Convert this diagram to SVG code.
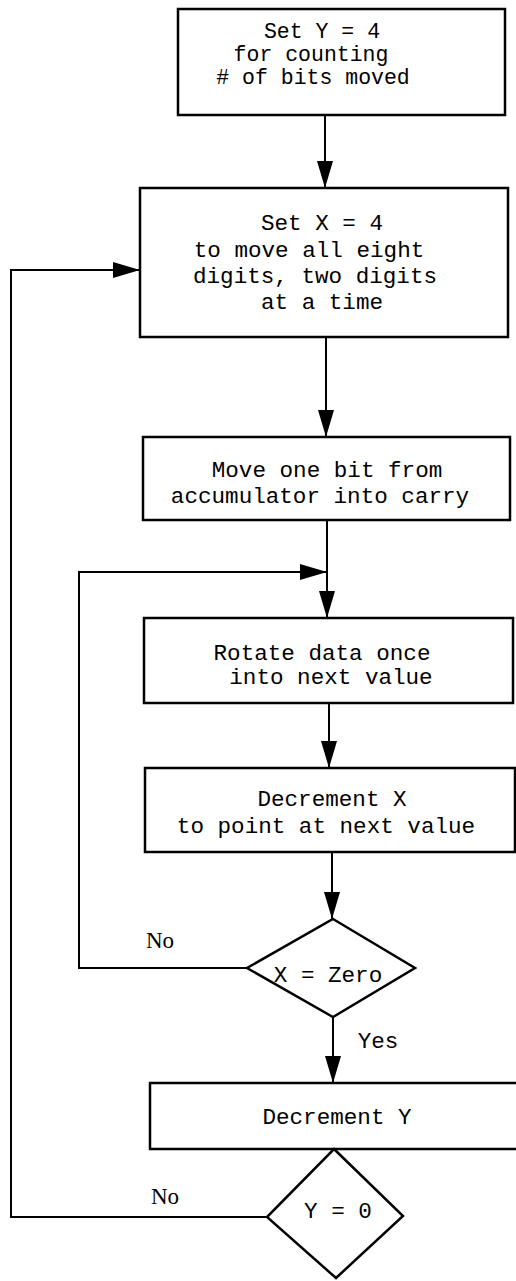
<svg xmlns="http://www.w3.org/2000/svg" width="516" height="1281" viewBox="0 0 516 1281">
<style>
.box{fill:#fff;stroke:#000;stroke-width:2.5}
.t{font-family:"Liberation Mono","DejaVu Sans Mono",monospace;font-size:22.6px;fill:#000;text-anchor:middle}
.s{font-size:21.5px}
.lbl{font-family:"Liberation Serif","DejaVu Serif",serif;font-size:23px;fill:#000}
.c{fill:none;stroke:#000;stroke-width:2}
</style>
<defs>
<marker id="ah" viewBox="0 0 27 16" refX="27" refY="8" markerWidth="27" markerHeight="16" orient="auto" markerUnits="userSpaceOnUse">
<path d="M0,0 L27,8 L0,16 Z" fill="#000"/>
</marker>
</defs>
<rect width="516" height="1281" fill="#fff"/>
<g id="connectors">
<path class="c" d="M325,115 V188" marker-end="url(#ah)"/>
<path class="c" d="M326,337 V437" marker-end="url(#ah)"/>
<path class="c" d="M327,520 V618" marker-end="url(#ah)"/>
<path class="c" d="M329,703 V768" marker-end="url(#ah)"/>
<path class="c" d="M332,852 V919" marker-end="url(#ah)"/>
<path class="c" d="M333,1017 V1083" marker-end="url(#ah)"/>
<path class="c" d="M247,968 H79 V572 H327" marker-end="url(#ah)"/>
<path class="c" d="M267,1217 H11 V270 H140" marker-end="url(#ah)"/>
<text class="lbl" x="146" y="948">No</text>
<text class="t" x="378" y="1048">Yes</text>
<text class="lbl" x="151" y="1204">No</text>
</g>
<g id="setY">
<rect class="box" x="178" y="9" width="327" height="106"/>
<text class="t s" x="322" y="38">Set Y = 4</text>
<text class="t s" x="311" y="61">for counting</text>
<text class="t s" x="313" y="84"># of bits moved</text>
</g>
<g id="setX">
<rect class="box" x="140" y="188" width="368" height="149"/>
<text class="t" x="322" y="230">Set X = 4</text>
<text class="t" x="309" y="257">to move all eight</text>
<text class="t" x="315" y="283">digits, two digits</text>
<text class="t" x="322" y="309">at a time</text>
</g>
<g id="moveBit">
<rect class="box" x="143" y="437" width="367" height="83"/>
<text class="t" x="327" y="477">Move one bit from</text>
<text class="t" x="320" y="503">accumulator into carry</text>
</g>
<g id="rotate">
<rect class="box" x="144" y="618" width="369" height="85"/>
<text class="t" x="322" y="660">Rotate data once</text>
<text class="t" x="331" y="684">into next value</text>
</g>
<g id="decX">
<rect class="box" x="145" y="768" width="370" height="84"/>
<text class="t" x="332" y="806">Decrement X</text>
<text class="t" x="326" y="833">to point at next value</text>
</g>
<g id="xZero">
<polygon class="box" points="333,919 415,968 333,1017 247,968"/>
<text class="t" x="328" y="982">X = Zero</text>
</g>
<g id="decY">
<rect class="box" x="150" y="1083" width="380" height="66"/>
<text class="t" x="337" y="1124">Decrement Y</text>
</g>
<g id="yZero">
<polygon class="box" points="334,1149 403,1216 336,1278 267,1217"/>
<text class="t" x="338" y="1218">Y = 0</text>
</g>
</svg>
